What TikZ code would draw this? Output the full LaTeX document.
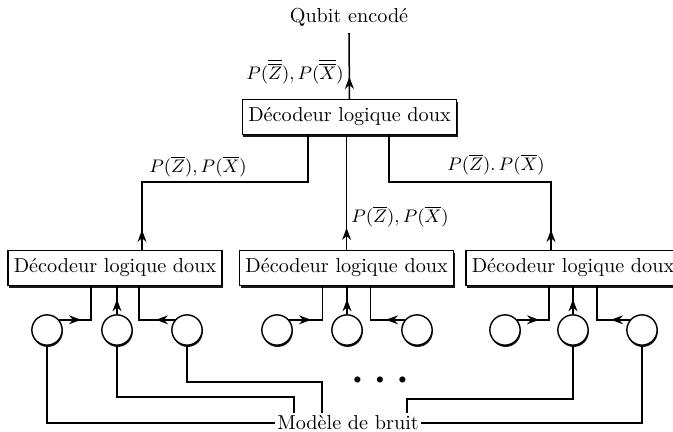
\documentclass[tikz,border=0pt]{standalone}
\usepackage{amsmath,amssymb}
\usepackage{tikz}
\usetikzlibrary{calc,arrows.meta,shadows,decorations.markings}
\tikzset{
  box/.style={draw, line width=0.7pt, fill=white, minimum width=106pt, minimum height=17.3pt, inner sep=2pt,
    drop shadow={shadow xshift=0.5pt, shadow yshift=-1.3pt, fill=black, opacity=0.9}},
  src/.style={draw, circle, line width=0.7pt, fill=white, minimum size=15pt, inner sep=0pt,
    drop shadow={shadow xshift=0.3pt, shadow yshift=-0.9pt, fill=black, opacity=0.9}},
  link/.style={line width=0.75pt},
  midarr/.style={postaction={decorate}, decoration={markings,
    mark=at position #1 with {\arrow{Stealth[length=6pt,width=4.4pt]}}}},
  lab/.style={inner sep=1pt, font=\small},
}

\begin{document}
\begin{tikzpicture}[x=0.495pt, y=-0.495pt]
  \useasboundingbox (0,0) rectangle (673,432);

  \node (qubit) at (349,17) {Qubit encodé};
  \node[box] (dh) at (349.5,117) {Décodeur logique doux};
  \node[box] (dl) at (115,268) {Décodeur logique doux};
  \node[box] (dm) at (346.6,268) {Décodeur logique doux};
  \node[box] (dr) at (573,268) {Décodeur logique doux};

  \node[src] (l1) at (47,330) {};
  \node[src] (l2) at (117,330) {};
  \node[src] (l3) at (187,330) {};
  \node[src] (m1) at (277,330) {};
  \node[src] (m2) at (347,330) {};
  \node[src] (m3) at (417,330) {};
  \node[src] (r1) at (505,330) {};
  \node[src] (r2) at (573,330) {};
  \node[src] (r3) at (642,330) {};

  \node[inner sep=1pt] (noise) at (348,423) {Modèle de bruit};
  \node (dots) at (380,380) {$\scriptstyle\bullet\hspace{7pt}\bullet\hspace{7pt}\bullet$};

  \coordinate (kl) at (142,182);
  \coordinate (fl) at (308,182);
  \coordinate (fr) at (389,182);
  \coordinate (kr) at (551,182);
  \coordinate (b2) at (294,397);
  \coordinate (b3) at (322,382);
  \coordinate (b5) at (407,399);

  \draw[link, midarr=10.9pt] (dh.north) -- (qubit.south);
  \draw[link, midarr=9.9pt] (dl.north -| kl) -- (kl) -- (fl) -- (dh.south -| fl);
  \draw[link, midarr=10.9pt] (dm.north) -- (dm.north |- dh.south);
  \draw[link, midarr=9.9pt] (dr.north -| kr) -- (kr) -- (fr) -- (dh.south -| fr);

  \node[lab, anchor=east] (ptop) at (346,72) {$P(\overline{\overline{Z}}), P(\overline{\overline{X}})$};
  \node[lab] (pl) at (198,167) {$P(\overline{Z}), P(\overline{X})$};
  \node[lab, anchor=west] (pm) at (349,217) {$P(\overline{Z}), P(\overline{X})$};
  \node[lab] (pr) at (496,165) {$P(\overline{Z}).\,P(\overline{X})$};

  \draw[link, midarr=10.9pt] (l1.40) -| ([xshift=-11.9pt]dl.south);
  \draw[link, midarr=7.4pt] (l2.north) -- (dl.south -| l2);
  \draw[link, midarr=9.4pt] (l3.140) -| ([xshift=11.9pt]dl.south);
  \draw[link, midarr=10.9pt] (m1.40) -| ([xshift=-11.9pt]dm.south);
  \draw[link, midarr=7.4pt] (m2.north) -- (dm.south -| m2);
  \draw[link, midarr=9.4pt] (m3.140) -| ([xshift=11.9pt]dm.south);
  \draw[link, midarr=10.9pt] (r1.40) -| ([xshift=-11.9pt]dr.south);
  \draw[link, midarr=7.4pt] (r2.north) -- (dr.south -| r2);
  \draw[link, midarr=9.4pt] (r3.140) -| ([xshift=11.9pt]dr.south);

  \draw[link] (l1.south) |- (noise.west);
  \draw[link] (l2.south) |- (b2) -- (noise.north -| b2);
  \draw[link] (l3.south) |- (b3) -- (noise.north -| b3);
  \draw[link] (r2.south) |- (b5) -- (noise.north -| b5);
  \draw[link] (r3.south) |- (noise.east);
\end{tikzpicture}
\end{document}
